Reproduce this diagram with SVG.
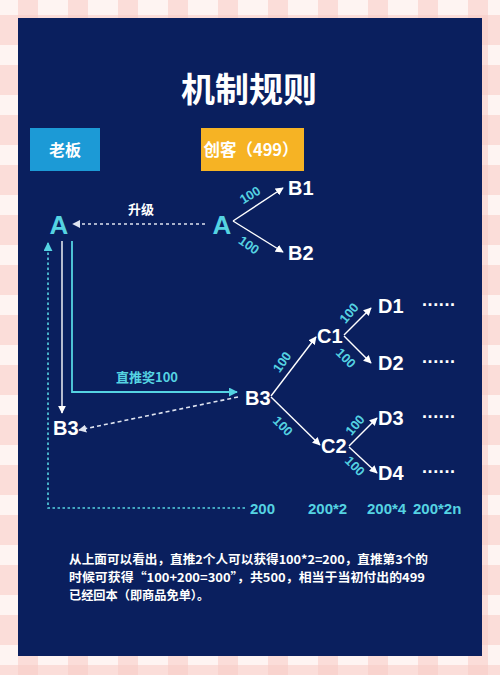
<svg xmlns="http://www.w3.org/2000/svg" width="500" height="675" viewBox="0 0 500 675">
<defs>
<pattern id="ging" x="0" y="0" width="50" height="50" patternUnits="userSpaceOnUse">
<rect width="50" height="50" fill="#fef4f2"/>
<rect x="18" y="0" width="20" height="50" fill="#f7c9c4" opacity="0.55"/>
<rect x="0" y="15" width="50" height="30" fill="#f7c9c4" opacity="0.55"/>
</pattern>
<marker id="aw" viewBox="0 0 10 10" refX="9" refY="5" markerWidth="8" markerHeight="8" markerUnits="userSpaceOnUse" orient="auto">
<path d="M0,0 L10,5 L0,10 Z" fill="#ffffff"/>
</marker>
<marker id="ac" viewBox="0 0 10 10" refX="9" refY="5" markerWidth="9" markerHeight="9" markerUnits="userSpaceOnUse" orient="auto">
<path d="M0,0 L10,5 L0,10 Z" fill="#55d3e2"/>
</marker>
<marker id="ag" viewBox="0 0 10 10" refX="9" refY="5" markerWidth="8" markerHeight="8" markerUnits="userSpaceOnUse" orient="auto">
<path d="M0,0 L10,5 L0,10 Z" fill="#dfe4f0"/>
</marker>
</defs>
<style>
.cjk{font-family:"Noto Sans CJK SC","Noto Sans",sans-serif;font-weight:bold}
.lat{font-family:"Liberation Sans","Noto Sans CJK SC",sans-serif;font-weight:bold}
.w{fill:#ffffff}
.c{fill:#55d3e2}
.node{font-size:20px}
.lbl{font-size:13px;fill:#55d3e2}
.ln{stroke:#ffffff;stroke-width:1.4;fill:none}
.lc{stroke:#55d3e2;stroke-width:1.8;fill:none}
.dots{font-size:18px;letter-spacing:0.6px}
</style>
<rect width="500" height="675" fill="url(#ging)"/>
<rect x="18" y="18" width="464" height="638" fill="#0a1f5e"/>
<text class="cjk w" x="249" y="102" font-size="34" text-anchor="middle">机制规则</text>

<g id="boss">
<rect x="30" y="128" width="70" height="43" fill="#1c9ad6"/>
<text class="cjk w" x="65" y="156" font-size="16" text-anchor="middle">老板</text>
</g>
<g id="maker">
<rect x="201" y="128" width="103" height="43" fill="#f6b324"/>
<text class="cjk w" x="251" y="156" font-size="16.5" text-anchor="middle">创客（499）</text>
</g>

<g id="connectors">
<line x1="205" y1="224" x2="73" y2="224" stroke="#dfe4f0" stroke-width="1.6" stroke-dasharray="3,3" marker-end="url(#ag)"/>
<line class="ln" x1="233" y1="221" x2="283" y2="188" marker-end="url(#aw)"/>
<line class="ln" x1="233" y1="221" x2="283" y2="252" marker-end="url(#aw)"/>
<line class="ln" x1="62" y1="241" x2="62" y2="413" marker-end="url(#aw)"/>
<polyline class="lc" points="72,241 72,392 237,392" marker-end="url(#ac)"/>
<line x1="238" y1="397" x2="79" y2="430" stroke="#dfe4f0" stroke-width="1.6" stroke-dasharray="4,3" marker-end="url(#ag)"/>
<polyline points="245,508 48,508 48,243" fill="none" stroke="#55d3e2" stroke-width="1.6" stroke-dasharray="2.5,2.5" marker-end="url(#ac)"/>
<line class="ln" x1="271" y1="396" x2="316" y2="337" marker-end="url(#aw)"/>
<line class="ln" x1="271" y1="397" x2="320" y2="445" marker-end="url(#aw)"/>
<line class="ln" x1="344" y1="335" x2="371" y2="308" marker-end="url(#aw)"/>
<line class="ln" x1="344" y1="336" x2="371" y2="363" marker-end="url(#aw)"/>
<line class="ln" x1="349" y1="446" x2="377" y2="418" marker-end="url(#aw)"/>
<line class="ln" x1="349" y1="447" x2="377" y2="473" marker-end="url(#aw)"/>
<text class="cjk w" x="141" y="214" font-size="13" text-anchor="middle">升级</text>
<text class="cjk c" x="147" y="382" font-size="13" text-anchor="middle">直推奖100</text>
<text class="lat lbl" transform="translate(250,195) rotate(-32)" text-anchor="middle" dy="0.35em">100</text>
<text class="lat lbl" transform="translate(249,245) rotate(35)" text-anchor="middle" dy="0.35em">100</text>
<text class="lat lbl" transform="translate(282,362) rotate(-55)" text-anchor="middle" dy="0.35em">100</text>
<text class="lat lbl" transform="translate(283,426) rotate(45)" text-anchor="middle" dy="0.35em">100</text>
<text class="lat lbl" transform="translate(349,313) rotate(-50)" text-anchor="middle" dy="0.35em">100</text>
<text class="lat lbl" transform="translate(346,358) rotate(45)" text-anchor="middle" dy="0.35em">100</text>
<text class="lat lbl" transform="translate(355,425) rotate(-50)" text-anchor="middle" dy="0.35em">100</text>
<text class="lat lbl" transform="translate(355,466) rotate(45)" text-anchor="middle" dy="0.35em">100</text>
</g>

<g id="nodeA1"><text class="lat c" x="59" y="234" font-size="26" text-anchor="middle">A</text></g>
<g id="nodeA2"><text class="lat c" x="222" y="234" font-size="26" text-anchor="middle">A</text></g>
<g id="nodeB1"><text class="lat w node" x="288" y="195">B1</text></g>
<g id="nodeB2"><text class="lat w node" x="288" y="260">B2</text></g>
<g id="nodeB3left"><text class="lat w node" x="53" y="435">B3</text></g>
<g id="nodeB3"><text class="lat w node" x="245" y="405">B3</text></g>
<g id="nodeC1"><text class="lat w node" x="317" y="343">C1</text></g>
<g id="nodeC2"><text class="lat w node" x="321" y="453">C2</text></g>
<g id="nodeD1"><text class="lat w node" x="378" y="313">D1</text><text class="lat w dots" x="422" y="306">......</text></g>
<g id="nodeD2"><text class="lat w node" x="378" y="370">D2</text><text class="lat w dots" x="422" y="363">......</text></g>
<g id="nodeD3"><text class="lat w node" x="378" y="425">D3</text><text class="lat w dots" x="422" y="418">......</text></g>
<g id="nodeD4"><text class="lat w node" x="378" y="480">D4</text><text class="lat w dots" x="422" y="473">......</text></g>

<g id="amounts" class="lat c" font-size="15">
<text x="250" y="514">200</text>
<text x="308" y="514">200*2</text>
<text x="367" y="514">200*4</text>
<text x="413" y="514">200*2n</text>
</g>

<g id="note" class="cjk w" font-size="12.2">
<text x="69" y="564" textLength="359" lengthAdjust="spacingAndGlyphs">从上面可以看出，直推2个人可以获得100*2=200，直推第3个的</text>
<text x="69" y="582" textLength="356" lengthAdjust="spacingAndGlyphs">时候可获得“100+200=300”，共500，相当于当初付出的499</text>
<text x="69" y="600">已经回本（即商品免单）。</text>
</g>
</svg>
